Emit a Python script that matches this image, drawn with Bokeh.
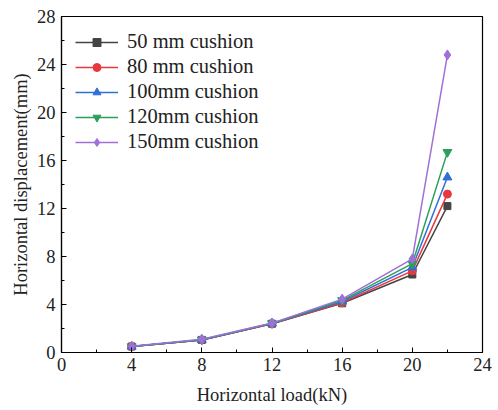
from bokeh.plotting import figure
from bokeh.models import FixedTicker, Range1d
from bokeh.embed import file_html
from bokeh.resources import INLINE

loads = [4, 8, 12, 16, 20, 22]
disp_50 = [0.5, 1.05, 2.4, 4.1, 6.5, 12.2]
disp_80 = [0.5, 1.05, 2.4, 4.15, 6.8, 13.2]
disp_100 = [0.5, 1.05, 2.42, 4.25, 7.1, 14.6]
disp_120 = [0.5, 1.07, 2.43, 4.35, 7.4, 16.7]
disp_150 = [0.52, 1.1, 2.45, 4.45, 7.8, 24.8]

labels = ["50 mm cushion", "80 mm cushion", "100mm cushion", "120mm cushion", "150mm cushion"]
series = [disp_50, disp_80, disp_100, disp_120, disp_150]
colors = ["#444444", "#e8383d", "#2f6fd6", "#2e9e5b", "#a06fd8"]
markers = ["square", "circle", "triangle", "inverted_triangle", "diamond"]
sizes = [7, 8, 9, 9, 10]

x_ticks = [0, 4, 8, 12, 16, 20, 24]
y_ticks = [0, 4, 8, 12, 16, 20, 24, 28]

FONT = "Liberation Serif"

p = figure(width=498, height=410, output_backend="svg", toolbar_location=None,
           x_range=Range1d(0, 24), y_range=Range1d(0, 28),
           min_border_left=61, min_border_right=16, min_border_top=16, min_border_bottom=58)

for ys, lab, c, m, s in zip(series, labels, colors, markers, sizes):
    p.line(loads, ys, line_color=c, line_width=1.5, legend_label=lab)
    p.scatter(loads, ys, marker=m, size=s, fill_color=c, line_color=c, legend_label=lab)

p.xgrid.visible = False
p.ygrid.visible = False
p.outline_line_color = "black"
p.outline_line_width = 1.2

p.xaxis.ticker = FixedTicker(ticks=x_ticks, minor_ticks=[2, 6, 10, 14, 18, 22])
p.yaxis.ticker = FixedTicker(ticks=y_ticks, minor_ticks=[2, 6, 10, 14, 18, 22, 26])

for ax in (p.xaxis[0], p.yaxis[0]):
    ax.axis_line_color = "black"
    ax.axis_line_width = 1.2
    ax.major_tick_in = 5
    ax.major_tick_out = 0
    ax.minor_tick_in = 3
    ax.minor_tick_out = 0
    ax.major_tick_line_color = "black"
    ax.minor_tick_line_color = "black"
    ax.major_label_text_font = FONT
    ax.major_label_text_font_size = "18.5px"
    ax.major_label_text_color = "#222222"
    ax.axis_label_text_font = FONT
    ax.axis_label_text_font_size = "18.5px"
    ax.axis_label_text_font_style = "normal"
    ax.axis_label_text_color = "#222222"

p.xaxis.axis_label = "Horizontal load(kN)"
p.yaxis.axis_label = "Horizontal displacement(mm)"
p.xaxis.major_label_standoff = 5
p.yaxis.major_label_standoff = 6
p.xaxis.axis_label_standoff = 11
p.yaxis.axis_label_standoff = 3

p.legend.location = "top_left"
p.legend.border_line_color = None
p.legend.background_fill_alpha = 0
p.legend.label_text_font = FONT
p.legend.label_text_font_size = "20.5px"
p.legend.label_text_color = "#222222"
p.legend.glyph_width = 43
p.legend.glyph_height = 20
p.legend.label_height = 20
p.legend.spacing = 2
p.legend.margin = 14
p.legend.padding = 6
p.legend.label_standoff = 9

open("out.html", "w").write(file_html(p, INLINE))
